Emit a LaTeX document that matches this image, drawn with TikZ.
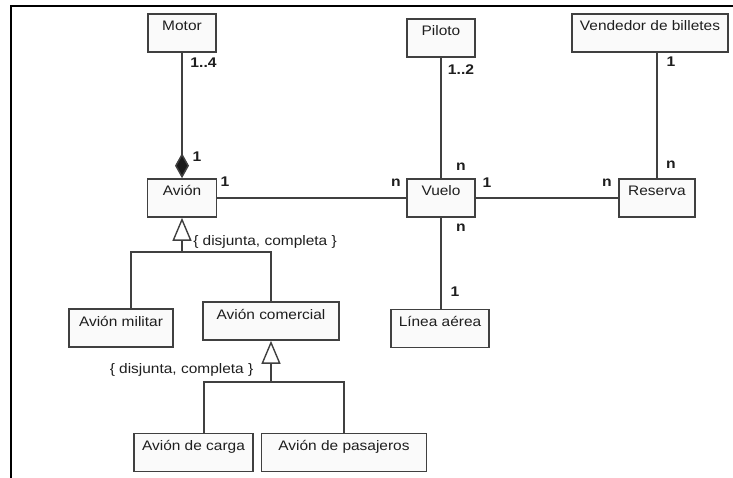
\documentclass[tikz,border=0pt]{standalone}
\usepackage{fontspec}
\setmainfont{Liberation Sans}[FakeStretch=1.12]
\usetikzlibrary{arrows.meta}
\definecolor{inkgray}{HTML}{1E1E1E}
\definecolor{linegray}{HTML}{404040}
\definecolor{boxfill}{HTML}{FAFAFA}
\begin{document}
\begin{tikzpicture}[x=1pt,y=-1pt,
  font=\fontsize{13.8}{16}\selectfont,
  umlclass/.style={draw=linegray, line width=1.6pt, fill=boxfill, text=inkgray,
    inner xsep=0pt, inner ysep=4pt, text height=13pt, text depth=17pt},
  assoc/.style={draw=linegray, line width=1.5pt},
  mult/.style={text=inkgray, inner sep=0pt, font=\fontsize{14}{16}\selectfont\bfseries},
  constraint/.style={text=inkgray, inner sep=0pt},
  genarrow/.style={assoc, -{Triangle[open, length=23pt, width=19pt, line width=1.4pt]}},
  comparrow/.style={assoc, -{Diamond[length=25pt, width=14pt, fill=black!90]}},
  framedge/.style={draw=black, line width=2.6pt}
]
\useasboundingbox (0,0) rectangle (733,478);
% outer frame (left and top edges)
\draw[framedge] (11,478) -- (11,6) -- (733,6);

% classes
\node[umlclass, minimum width=68pt]  (motor)   at (182,33)    {Motor};
\node[umlclass, minimum width=68pt]  (piloto)  at (441,38)    {Piloto};
\node[umlclass, minimum width=156pt] (vend)    at (650,33)    {Vendedor de billetes};
\node[umlclass, minimum width=69pt]  (avion)   at (182,198)   {Avión};
\node[umlclass, minimum width=68pt]  (vuelo)   at (441,198)   {Vuelo};
\node[umlclass, minimum width=76pt]  (reserva) at (657,198)   {Reserva};
\node[umlclass, minimum width=104pt] (militar) at (121,328)   {Avión militar};
\node[umlclass, minimum width=136pt] (comerc)  at (271,321)   {Avión comercial};
\node[umlclass, minimum width=98pt]  (linea)   at (440,328.5) {Línea aérea};
\node[umlclass, minimum width=119pt] (carga)   at (193.5,452.5) {Avión de carga};
\node[umlclass, minimum width=165pt] (pasaj)   at (344,452.5) {Avión de pasajeros};

% composition and associations
\draw[comparrow] (motor.south) -- (avion.north);
\draw[assoc] (avion.east) -- (vuelo.west);
\draw[assoc] (vuelo.east) -- (reserva.west);
\draw[assoc] (piloto.south) -- (vuelo.north);
\draw[assoc] (vuelo.south) -- (vuelo.south |- linea.north);
\draw[assoc] (reserva.north) -- (reserva.north |- vend.south);

% generalization of Avión
\coordinate (g1) at (182,252);
\draw[assoc] ([xshift=10pt]militar.north) |- (g1) -| (comerc.north);
\draw[genarrow] (g1) -- (avion.south);

% generalization of Avión comercial
\coordinate (g2) at (271,382);
\draw[assoc] ([xshift=10.5pt]carga.north) |- (g2) -| (pasaj.north);
\draw[genarrow] (g2) -- (comerc.south);

% multiplicities
\node[mult] (m1) at (203.5,63)  {1..4};
\node[mult] (m2) at (197,157)   {1};
\node[mult] (m3) at (225,182)   {1};
\node[mult] (m4) at (461,70)    {1..2};
\node[mult] (m5) at (461,167)   {n};
\node[mult] (m6) at (396,183)   {n};
\node[mult] (m7) at (487,183)   {1};
\node[mult] (m8) at (461,228)   {n};
\node[mult] (m9) at (455,292)   {1};
\node[mult] (m10) at (671,62)   {1};
\node[mult] (m11) at (671,165)  {n};
\node[mult] (m12) at (607,183)  {n};

% constraints
\node[constraint] (c1) at (265,242)   {\{ disjunta, completa \}};
\node[constraint] (c2) at (181.5,370) {\{ disjunta, completa \}};
\end{tikzpicture}
\end{document}
